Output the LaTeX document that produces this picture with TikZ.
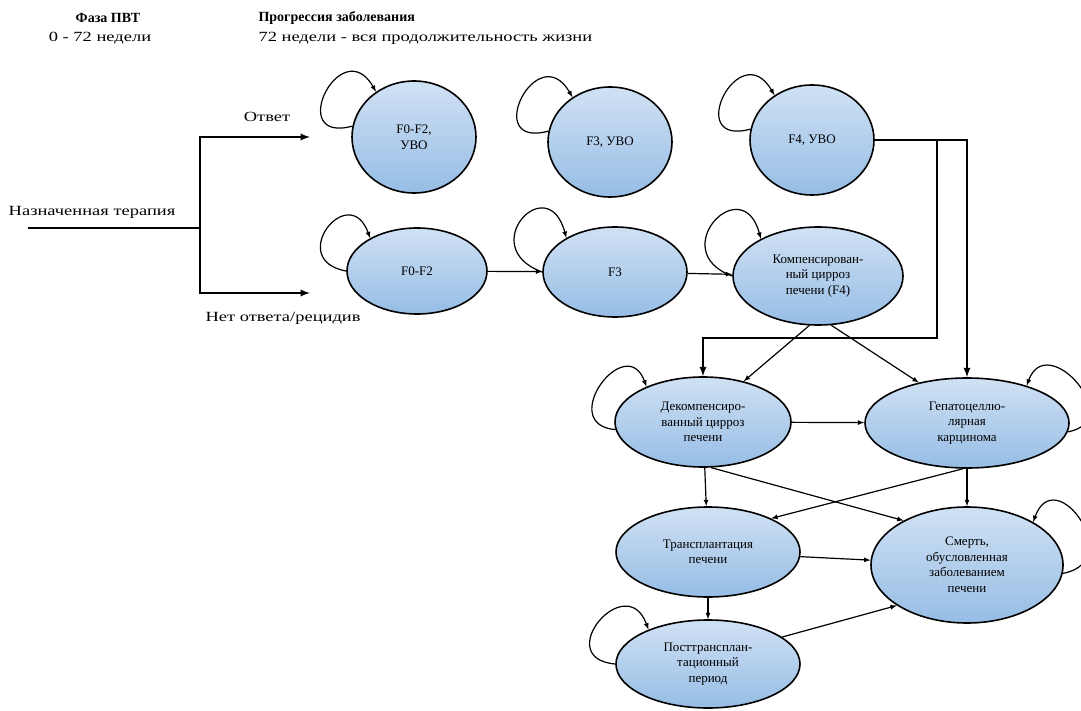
\documentclass[tikz,border=0pt]{standalone}
\usepackage{fontspec}
\setmainfont{Liberation Serif}
\newfontfamily\widefont[FakeStretch=1.32]{Liberation Serif}
\usetikzlibrary{shapes.geometric}

\definecolor{blutop}{RGB}{208,225,244}
\definecolor{blubot}{RGB}{150,189,229}
% node, start anchor, end anchor, out dir, in dir, reach
\newcommand{\sloop}[6]{\draw[edge] (#1.#2) .. controls +(#4:#6) and +(#5:#6) .. (#1.#3);}

\begin{document}
\begin{tikzpicture}[x=1pt,y=1pt,>=latex,
  state/.style={ellipse, draw, line width=1.6pt, top color=blutop, bottom color=blubot,
    align=center, inner sep=0pt, font=\fontsize{13}{15.5}\selectfont},
  edge/.style={->, line width=1.2pt},
  route/.style={->, line width=2.2pt},
  lbl/.style={font=\fontsize{14}{16}\selectfont\widefont},
  head/.style={font=\fontsize{14}{16}\selectfont\bfseries}]
  \path[fill=white] (0,0) rectangle (1081,-711);
  \useasboundingbox (0,0) rectangle (1081,-711);

  % headers
  \node[head] (phase) at (108,-18) {Фаза ПВТ};
  \node[lbl] (weeks) at (100,-38) {0 - 72 недели};
  \node[head, anchor=west] (prog) at (255,-18) {Прогрессия заболевания};
  \node[lbl, anchor=west] (life) at (255,-38) {72 недели - вся продолжительность жизни};

  % therapy branch
  \node[lbl] (ther) at (92,-212) {Назначенная терапия};
  \node[lbl] (resp) at (267,-117) {Ответ};
  \node[lbl, anchor=west] (nresp) at (202,-318) {Нет ответа/рецидив};
  \coordinate (start) at (28,-228);
  \coordinate (split) at (200,-228);
  \coordinate (up) at (310,-137);
  \coordinate (down) at (310,-293);
  \draw[line width=2.2pt] (start) -- (split);
  \draw[route] (split) |- (up);
  \draw[route] (split) |- (down);

  % SVR states
  \node[state, minimum width=124pt, minimum height=112pt] (t1) at (414,-137) {F0-F2,\\УВО};
  \node[state, minimum width=124pt, minimum height=110pt] (t2) at (610,-142) {F3, УВО};
  \node[state, minimum width=124pt, minimum height=110pt] (t3) at (812,-140) {F4, УВО};

  % untreated fibrosis
  \node[state, minimum width=140pt, minimum height=86pt] (m1) at (417,-271) {F0-F2};
  \node[state, minimum width=144pt, minimum height=90pt] (m2) at (615,-272) {F3};
  \node[state, minimum width=170pt, minimum height=98pt] (comp) at (818,-276) {Компенсирован-\\ный цирроз\\печени (F4)};

  % end stages
  \node[state, minimum width=176pt, minimum height=90pt] (decomp) at (703,-422) {Декомпенсиро-\\ванный цирроз\\печени};
  \node[state, minimum width=204pt, minimum height=90pt] (hcc) at (967,-423) {Гепатоцеллю-\\лярная\\карцинома};
  \node[state, minimum width=184pt, minimum height=90pt] (tx) at (708,-552) {Трансплантация\\печени};
  \node[state, minimum width=192pt, minimum height=116pt] (death) at (967,-565) {Смерть,\\обусловленная\\заболеванием\\печени};
  \node[state, minimum width=184pt, minimum height=88pt] (post) at (708,-664) {Посттрансплан-\\тационный\\период};

  % self loops
  \foreach \n in {t1,t2,t3} {
    \sloop{\n}{170}{130}{195}{120}{70}
  }
  \sloop{m1}{180}{145}{170}{110}{62}
  \sloop{m2}{180}{145}{160}{105}{72}
  \sloop{comp}{180}{147}{160}{105}{72}
  \sloop{decomp}{185}{148}{175}{110}{60}
  \sloop{hcc}{-5}{32}{10}{70}{60}
  \sloop{death}{-5}{33}{10}{70}{65}
  \sloop{post}{180}{150}{175}{110}{65}

  % transitions
  \draw[edge] (m1) -- (m2);
  \draw[edge] (m2) -- (comp);
  \coordinate (bend) at (937,-338);
  \draw[route] (t3.east) -| (bend) -| (decomp.north);
  \draw[route] (t3.east) -| (hcc.north);
  \draw[edge] (comp.-100) -- (decomp.45);
  \draw[edge] (comp.-75) -- (hcc.140);
  \draw[edge] (decomp) -- (hcc);
  \draw[edge] (decomp) -- (tx);
  \draw[edge] (decomp.-80) -- (death.145);
  \draw[edge] (hcc.-95) -- (tx.28);
  \draw[edge] (hcc) -- (death);
  \draw[edge] (tx) -- (death);
  \draw[edge] (tx) -- (post);
  \draw[edge] (post.20) -- (death.210);
\end{tikzpicture}
\end{document}
